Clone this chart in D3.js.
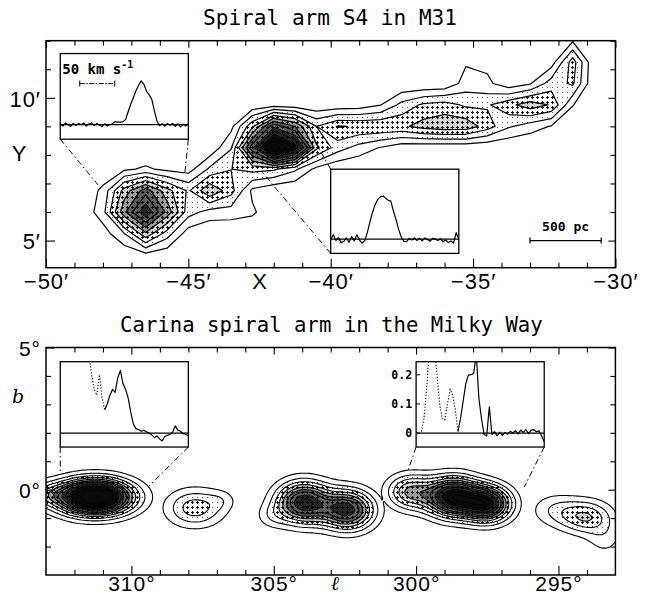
<!DOCTYPE html>
<html><head><meta charset="utf-8">
<script src="https://cdn.jsdelivr.net/npm/d3@7"></script>
<style>body{margin:0;background:#fff}svg{display:block}</style>
</head><body>
<svg id="c" width="652" height="597"></svg>
<script>
// ================= DATA =================
const titleTop = "Spiral arm S4 in M31";
const titleBottom = "Carina spiral arm in the Milky Way";

const xTicksTop = [-50, -45, -40, -35, -30];
const xTickLabelsTop = ["−50′", "−45′", "−40′", "−35′", "−30′"];
const yTicksTop = [5, 10];
const yTickLabelsTop = ["5′", "10′"];
const xTicksBot = [310, 305, 300, 295];
const xTickLabelsBot = ["310°", "305°", "300°", "295°"];
const yTicksBot = [0, 5];
const yTickLabelsBot = ["0°", "5°"];

// M31 arm S4: emission components (X [arcmin], Y [arcmin], peak, sigma X, sigma Y)
const m31X    = [-46.55, -46.35, -44.94, -43.99, -43.01, -43.01, -41.85, -40.66, -39.57, -38.44, -37.14, -36.09, -35.04, -33.88, -32.72, -31.95, -31.56, -34.93];
const m31Y    = [  6.25,   5.30,   6.42,   6.88,   6.00,   7.65,   8.42,   8.52,   8.77,   8.94,   9.29,   9.33,   9.26,   9.50,   9.71,  10.34,  11.08,  10.80];
const m31Peak = [  9.0,    2.5,    1.6,    5.0,    1.3,    2.2,   15.0,    1.5,    4.6,    3.4,    4.8,    4.2,    5.2,    3.4,    4.5,    2.6,    3.6,    2.6];
const m31SX   = [  0.80,   0.45,   0.55,   0.50,   0.50,   0.50,   0.74,   0.45,   0.50,   0.50,   0.60,   0.50,   0.60,   0.50,   0.55,   0.35,   0.30,   0.45];
const m31SY   = [  0.62,   0.45,   0.45,   0.50,   0.35,   0.50,   0.51,   0.45,   0.42,   0.42,   0.42,   0.40,   0.38,   0.40,   0.45,   0.45,   0.55,   0.35];
const m31Group = [0, 0, 0, 0, 0, 0, 0, 0, 0, 0, 0, 0, 0, 0, 0, 0, 0, 0];
const m31Levels = [1, 2, 3, 4, 5, 6, 7, 8, 9, 10, 11, 12, 13, 14];

// Carina arm: emission components (l [deg], b [deg], peak, sigma l, sigma b), grouped into clouds
const carL    = [311.28, 313.03, 307.77, 306.82, 303.95, 302.40, 305.06, 300.21, 298.70, 297.51, 294.03, 295.12, 293.37];
const carB    = [ -0.26,  -0.15,  -0.64,  -0.36,  -0.45,  -0.71,  -0.93,  -0.08,  -0.26,  -0.50,  -0.96,  -0.71,  -1.70];
const carPeak = [ 16.0,    2.5,    3.6,    0.9,    9.0,    8.5,    1.3,    5.0,   11.0,   10.0,    3.85,   1.8,    1.3];
const carSL   = [  0.86,   0.60,   0.70,   0.35,   0.64,   0.62,   0.40,   0.56,   0.63,   0.56,   0.62,   0.60,   0.45];
const carSB   = [  0.41,   0.30,   0.46,   0.25,   0.49,   0.47,   0.30,   0.42,   0.46,   0.42,   0.40,   0.40,   0.45];
const carGroup = [0, 0, 1, 1, 2, 2, 2, 3, 3, 3, 4, 4, 4];
const carLevels = [1, 2, 3, 4, 5, 6, 7, 8, 9, 10, 11, 12, 13, 14];

// Inset spectra (channel intensities)
const spec1 = [0.02,-0.03,0.04,0.0,-0.04,0.03,-0.02,0.03,0.0,0.04,-0.03,0.02,0.04,-0.02,0.03,-0.01,-0.04,0.02,-0.03,0.0,
  0.02,0.07,0.06,0.06,0.07,0.12,0.3,0.47,0.62,0.78,0.9,1.0,0.92,0.76,0.68,0.58,0.32,0.08,-0.02,
  0.02,-0.03,0.03,-0.01,0.03,-0.04,0.02,-0.05,0.01,-0.03,0.02];
const spec2 = [0.0,0.1,-0.03,0.04,-0.08,-0.05,0.03,-0.07,0.06,-0.04,0.1,-0.02,-0.09,-0.04,0.15,0.4,0.62,0.8,0.92,0.98,
  1.0,0.95,0.9,0.88,0.65,0.45,0.22,0.05,-0.05,-0.06,0.02,-0.02,0.03,-0.03,0.02,-0.04,0.03,-0.01,-0.05,0.02,
  0.0,-0.03,0.01,-0.06,-0.02,-0.08,-0.04,-0.09,0.15,0.0];
const spec3 = [null,null,null,null,null,null,null,null,null,null,null,
  0.27,0.2,0.15,0.13,0.2,0.12,0.08,0.1,0.13,0.15,0.14,0.19,0.215,0.17,0.15,0.12,0.07,0.03,0.015,0.012,
  0.006,0.01,0.004,0.0,-0.006,-0.016,-0.01,-0.02,-0.027,-0.012,-0.008,-0.004,0.003,0.025,0.01,0.006,-0.002,-0.004,-0.009];
const spec3SolidFrom = 17;
const spec4 = [null,null,0.005,0.05,0.15,0.28,0.35,0.3,0.2,0.1,0.05,0.045,0.1,0.15,0.13,0.08,0.005,0.05,0.11,0.17,
  0.2,0.2,0.205,0.27,0.12,0.05,-0.005,-0.01,0.09,-0.005,0.005,-0.01,0.003,-0.008,0.002,-0.004,0.006,0.0,0.008,-0.003,
  0.01,0.002,0.012,-0.002,0.01,0.012,0.004,0.008,-0.01,-0.03];
const spec4SolidFrom = 16;
const spec4Ticks = [0, 0.1, 0.2];
const spec4TickLabels = ["0", "0.1", "0.2"];

// Inset boxes in panel coordinates: [x0, x1, y0(bottom), y1(top)]
const insetBoxesTop = [[-49.5, -45.0, 8.55, 11.55], [-40.0, -35.5, 4.55, 7.5]];
const insetBoxesBot = [[312.5, 308.0, 1.5, 4.5], [300.0, 295.5, 1.5, 4.5]];
// Connector lines: [fromX, fromY, toX, toY] (panel coordinates)
const linksTop = [[-49.5, 8.55, -48.17, 6.95], [-45.0, 8.55, -45.12, 7.40], [-40.0, 7.5, -40.62, 8.59], [-40.0, 4.55, -42.41, 7.40]];
const linksBot = [[312.5, 1.5, 312.5, 0.63], [308.0, 1.5, 309.41, 0.10], [300.0, 1.5, 300.28, 0.69], [295.5, 1.5, 296.2, 0.1]];

// ================= DRAWING =================
const svg = d3.select("#c");
const defs = svg.append("defs");

// halftone-like shading styles (by contour level)
const shadeStyles = [
  {min: 2, bg: "#ffffff", kind: "dot", fg: "#555"},
  {min: 3, bg: "#ffffff", kind: "cross", fg: "#111"},
  {min: 4, bg: "#d4d4d4", kind: "cross", fg: "#000"},
  {min: 5, bg: "#9c9c9c", kind: "cross", fg: "#000"},
  {min: 6, bg: "#5e5e5e", kind: "cross", fg: "#000"},
  {min: 8, bg: "#262626", kind: "cross", fg: "#000"},
  {min: 10, bg: "#0a0a0a", kind: "none", fg: "#000"}
];
shadeStyles.forEach((s, i) => {
  const p = defs.append("pattern").attr("id", "pat" + i).attr("patternUnits", "userSpaceOnUse")
    .attr("width", 5).attr("height", 5);
  p.append("rect").attr("width", 5).attr("height", 5).attr("fill", s.bg);
  if (s.kind === "dot") p.append("rect").attr("x", 2).attr("y", 2).attr("width", 1).attr("height", 1).attr("fill", s.fg);
  if (s.kind === "cross") {
    p.append("rect").attr("x", 1).attr("y", 2).attr("width", 3).attr("height", 1).attr("fill", s.fg);
    p.append("rect").attr("x", 2).attr("y", 1).attr("width", 1).attr("height", 3).attr("fill", s.fg);
  }
});
function patFor(t) {
  let id = null;
  shadeStyles.forEach((s, i) => { if (t >= s.min) id = "pat" + i; });
  return id;
}

// Panel geometry
const L = 46, R = 615.4;
const xTop = d3.scaleLinear().domain([-50, -30]).range([L, R]);
const yTop = d3.scaleLinear().domain([4.05, 12]).range([267.7, 40.7]);
const xBot = d3.scaleLinear().domain([313, 293]).range([L, R]);
const yBot = d3.scaleLinear().domain([-3, 5]).range([575, 347.5]);

function clip(id, xs, ys) {
  const [x0, x1] = xs.range(), [y0, y1] = ys.range();
  defs.append("clipPath").attr("id", id).append("rect")
    .attr("x", Math.min(x0, x1)).attr("y", Math.min(y0, y1))
    .attr("width", Math.abs(x1 - x0)).attr("height", Math.abs(y1 - y0));
}
clip("clipTop", xTop, yTop);
clip("clipBot", xBot, yBot);

function drawContours(g, cx, cy, peak, sx, sy, grp, levels, grid, xs, ys, lw) {
  const {x0, x1, y0, y1, dx, dy} = grid;
  const n = Math.round((x1 - x0) / dx) + 1, m = Math.round((y1 - y0) / dy) + 1;
  const ng = d3.max(grp) + 1;
  const vals = new Array(n * m);
  for (let j = 0; j < m; j++) {
    const Y = y0 + j * dy;
    for (let i = 0; i < n; i++) {
      const X = x0 + i * dx;
      const sums = new Array(ng).fill(0);
      for (let k = 0; k < cx.length; k++) {
        const a = (X - cx[k]) / sx[k], b = (Y - cy[k]) / sy[k];
        sums[grp[k]] += peak[k] * Math.exp(-0.5 * (a * a + b * b));
      }
      vals[j * n + i] = d3.max(sums);
    }
  }
  const cs = d3.contours().size([n, m]).thresholds(levels)(vals);
  const tr = d3.geoTransform({point(px, py) {
    this.stream.point(xs(x0 + (px - 0.5) * dx), ys(y0 + (py - 0.5) * dy));
  }});
  const path = d3.geoPath(tr);
  g.append("g").selectAll("path").data(cs.filter(c => patFor(c.value))).join("path")
    .attr("d", path).attr("fill", c => `url(#${patFor(c.value)})`).attr("fill-rule", "evenodd");
  g.append("g").selectAll("path").data(cs).join("path")
    .attr("d", path).attr("fill", "none").attr("stroke", "#000")
    .attr("stroke-width", c => c.value >= 8 ? 0.7 : lw).attr("stroke-linejoin", "round");
}

function axes(xs, ys, xMajor, xLabels, yMajor, yLabels, xMinor, yMinor, xPad, yPad, fs) {
  const [top, bottom] = [ys.range()[1], ys.range()[0]];
  const g = svg.append("g");
  const style = sel => { sel.select(".domain").remove(); sel.selectAll("line").attr("stroke", "#000").attr("stroke-width", 1.1); };
  const fontify = sel => sel.attr("font-family", "'Liberation Sans', Arial, sans-serif").attr("font-size", fs);
  g.append("g").attr("transform", `translate(0,${bottom})`).call(d3.axisBottom(xs).tickValues(xMinor).tickSize(-5).tickFormat("")).call(style);
  g.append("g").attr("transform", `translate(0,${top})`).call(d3.axisTop(xs).tickValues(xMinor).tickSize(-5).tickFormat("")).call(style);
  g.append("g").attr("transform", `translate(${L},0)`).call(d3.axisLeft(ys).tickValues(yMinor).tickSize(-5).tickFormat("")).call(style);
  g.append("g").attr("transform", `translate(${R},0)`).call(d3.axisRight(ys).tickValues(yMinor).tickSize(-5).tickFormat("")).call(style);
  g.append("g").attr("transform", `translate(0,${bottom})`)
    .call(d3.axisBottom(xs).tickValues(xMajor).tickSize(-9).tickPadding(xPad).tickFormat((d, i) => xLabels[i]))
    .call(style).call(fontify).selectAll("text").attr("fill", "#000").attr("letter-spacing", 1);
  g.append("g").attr("transform", `translate(0,${top})`)
    .call(d3.axisTop(xs).tickValues(xMajor).tickSize(-7).tickFormat("")).call(style);
  g.append("g").attr("transform", `translate(${L},0)`)
    .call(d3.axisLeft(ys).tickValues(yMajor).tickSize(-9).tickPadding(yPad).tickFormat((d, i) => yLabels[i]))
    .call(style).call(fontify).selectAll("text").attr("fill", "#000").attr("dy", "0.38em").attr("letter-spacing", 1);
  g.append("g").attr("transform", `translate(${R},0)`)
    .call(d3.axisRight(ys).tickValues(yMajor).tickSize(-7).tickFormat("")).call(style);
  g.append("rect").attr("x", L).attr("y", top).attr("width", R - L).attr("height", bottom - top)
    .attr("fill", "none").attr("stroke", "#000").attr("stroke-width", 1.5);
}

function dashLinks(links, xs, ys) {
  svg.append("g").selectAll("line").data(links).join("line")
    .attr("x1", d => xs(d[0])).attr("y1", d => ys(d[1])).attr("x2", d => xs(d[2])).attr("y2", d => ys(d[3]))
    .attr("stroke", "#000").attr("stroke-width", 1).attr("stroke-dasharray", "6,3,1.5,3");
}

function insetBox(box, xs, ys, id) {
  const x0 = xs(box[0]), x1 = xs(box[1]), yb = ys(box[2]), yt = ys(box[3]);
  const g = svg.append("g");
  defs.append("clipPath").attr("id", id).append("rect").attr("x", x0).attr("y", yt).attr("width", x1 - x0).attr("height", yb - yt);
  g.append("rect").attr("x", x0).attr("y", yt).attr("width", x1 - x0).attr("height", yb - yt).attr("fill", "#fff");
  return {g, x0, x1, yb, yt, id};
}
function finishBox(b) {
  b.g.append("rect").attr("x", b.x0).attr("y", b.yt).attr("width", b.x1 - b.x0).attr("height", b.yb - b.yt)
    .attr("fill", "none").attr("stroke", "#000").attr("stroke-width", 1.3);
}
function spectrum(b, data, domainY, solidFrom) {
  const sx = d3.scaleLinear().domain([0, data.length - 1]).range([b.x0, b.x1]);
  const sy = d3.scaleLinear().domain(domainY).range([b.yb, b.yt]);
  const gg = b.g.append("g").attr("clip-path", `url(#${b.id})`);
  gg.append("line").attr("x1", b.x0).attr("x2", b.x1).attr("y1", sy(0)).attr("y2", sy(0)).attr("stroke", "#000").attr("stroke-width", 1.3);
  const idx = data.map((v, i) => i);
  const line = d3.line().defined(i => data[i] !== null).x(i => sx(i)).y(i => sy(data[i]));
  if (solidFrom > 0) {
    gg.append("path").attr("d", line(idx.filter(i => i <= solidFrom))).attr("fill", "none")
      .attr("stroke", "#000").attr("stroke-width", 1.1).attr("stroke-dasharray", "1.2,1.8");
  }
  gg.append("path").attr("d", line(idx.filter(i => i >= solidFrom))).attr("fill", "none")
    .attr("stroke", "#000").attr("stroke-width", 1.2).attr("stroke-linejoin", "round");
  return sy;
}

const monoSmall = sel => sel.attr("font-family", "'DejaVu Sans Mono', monospace").attr("font-weight", "bold").attr("font-size", 13).attr("fill", "#000");

// ---------- TOP PANEL ----------
svg.append("text").attr("x", 330).attr("y", 25).attr("text-anchor", "middle")
  .attr("font-family", "'DejaVu Sans Mono', monospace").attr("font-size", 20.5)
  .attr("textLength", 254).attr("lengthAdjust", "spacingAndGlyphs").text(titleTop);

const gTop = svg.append("g").attr("clip-path", "url(#clipTop)");
drawContours(gTop, m31X, m31Y, m31Peak, m31SX, m31SY, m31Group, m31Levels,
  {x0: -51, x1: -28.5, y0: 3, y1: 13.5, dx: 0.75, dy: 0.75}, xTop, yTop, 1.2);

axes(xTop, yTop, xTicksTop, xTickLabelsTop, yTicksTop, yTickLabelsTop,
  d3.range(-49, -30, 1).filter(v => v % 5 !== 0), d3.range(5, 12.5, 1).filter(v => v % 5 !== 0), 6, 5, 22);

svg.append("text").attr("x", xTop(-42.5)).attr("y", 289).attr("text-anchor", "middle")
  .attr("font-family", "'Liberation Sans', Arial, sans-serif").attr("font-size", 22).text("X");
svg.append("text").attr("x", 19).attr("y", 161).attr("text-anchor", "middle")
  .attr("font-family", "'Liberation Sans', Arial, sans-serif").attr("font-size", 22).text("Y");

// 500 pc scale bar (2.5 arcmin)
const pcBar = [-33, -30.5, 5.0];
const gpc = svg.append("g");
gpc.append("line").attr("x1", xTop(pcBar[0])).attr("x2", xTop(pcBar[1])).attr("y1", yTop(pcBar[2])).attr("y2", yTop(pcBar[2])).attr("stroke", "#000").attr("stroke-width", 1.3);
[pcBar[0], pcBar[1]].forEach(v => gpc.append("line").attr("x1", xTop(v)).attr("x2", xTop(v)).attr("y1", yTop(pcBar[2]) - 3).attr("y2", yTop(pcBar[2]) + 3).attr("stroke", "#000").attr("stroke-width", 1.2));
gpc.append("text").attr("x", xTop((pcBar[0] + pcBar[1]) / 2)).attr("y", yTop(pcBar[2]) - 10).attr("text-anchor", "middle").call(monoSmall).text("500 pc");

dashLinks(linksTop, xTop, yTop);
const b1 = insetBox(insetBoxesTop[0], xTop, yTop, "ib1");
spectrum(b1, spec1, [-0.33, 1.62], 0);
// velocity scale bar 50 km/s
const vb = b1.g.append("g");
vb.append("line").attr("x1", b1.x0 + 19.5).attr("x2", b1.x0 + 54.5).attr("y1", b1.yt + 30).attr("y2", b1.yt + 30).attr("stroke", "#000").attr("stroke-width", 1).attr("stroke-dasharray", "5,1.5,1.5,1.5");
[19.5, 54.5].forEach(o => vb.append("line").attr("x1", b1.x0 + o).attr("x2", b1.x0 + o).attr("y1", b1.yt + 27).attr("y2", b1.yt + 33).attr("stroke", "#000"));
const t50 = b1.g.append("text").attr("x", b1.x0 + 2).attr("y", b1.yt + 20.5).call(monoSmall).attr("font-size", 14);
t50.append("tspan").text("50 km s");
t50.append("tspan").attr("dy", -6).attr("font-size", 10).text("-1");
finishBox(b1);

const b2 = insetBox(insetBoxesTop[1], xTop, yTop, "ib2");
spectrum(b2, spec2, [-0.33, 1.62], 0);
finishBox(b2);

// ---------- BOTTOM PANEL ----------
svg.append("text").attr("x", 331.4).attr("y", 331.5).attr("text-anchor", "middle")
  .attr("font-family", "'DejaVu Sans Mono', monospace").attr("font-size", 20.5)
  .attr("textLength", 422.7).attr("lengthAdjust", "spacingAndGlyphs").text(titleBottom);

const gBot = svg.append("g").attr("clip-path", "url(#clipBot)");
drawContours(gBot, carL, carB, carPeak, carSL, carSB, carGroup, carLevels,
  {x0: 292, x1: 314, y0: -3.5, y1: 2.5, dx: 0.08, dy: 0.06}, xBot, yBot, 1.1);

axes(xBot, yBot, xTicksBot, xTickLabelsBot, yTicksBot, yTickLabelsBot,
  d3.range(294, 313, 1).filter(v => v % 5 !== 0), d3.range(-2, 5, 1).filter(v => v % 5 !== 0), 1, 5, 21);

svg.append("text").attr("x", 335).attr("y", 590).attr("text-anchor", "middle")
  .attr("font-family", "'DejaVu Serif', serif").attr("font-style", "italic").attr("font-size", 20).text("ℓ");
svg.append("text").attr("x", 18).attr("y", 403).attr("text-anchor", "middle")
  .attr("font-family", "'DejaVu Serif', serif").attr("font-style", "italic").attr("font-size", 19).text("b");

dashLinks(linksBot, xBot, yBot);
const b3 = insetBox(insetBoxesBot[0], xBot, yBot, "ib3");
spectrum(b3, spec3, [-0.048, 0.245], spec3SolidFrom);
finishBox(b3);

const b4 = insetBox(insetBoxesBot[1], xBot, yBot, "ib4");
const sy4 = spectrum(b4, spec4, [-0.048, 0.245], spec4SolidFrom);
b4.g.append("g").selectAll("line").data(spec4Ticks).join("line")
  .attr("x1", b4.x0).attr("x2", b4.x0 + 4).attr("y1", d => sy4(d)).attr("y2", d => sy4(d)).attr("stroke", "#000");
b4.g.append("g").selectAll("text").data(spec4Ticks).join("text")
  .attr("x", b4.x0 - 4).attr("y", d => sy4(d)).attr("dy", "0.35em").attr("text-anchor", "end")
  .call(monoSmall).attr("font-size", 11.5).text((d, i) => spec4TickLabels[i]);
finishBox(b4);
</script>
</body></html>
